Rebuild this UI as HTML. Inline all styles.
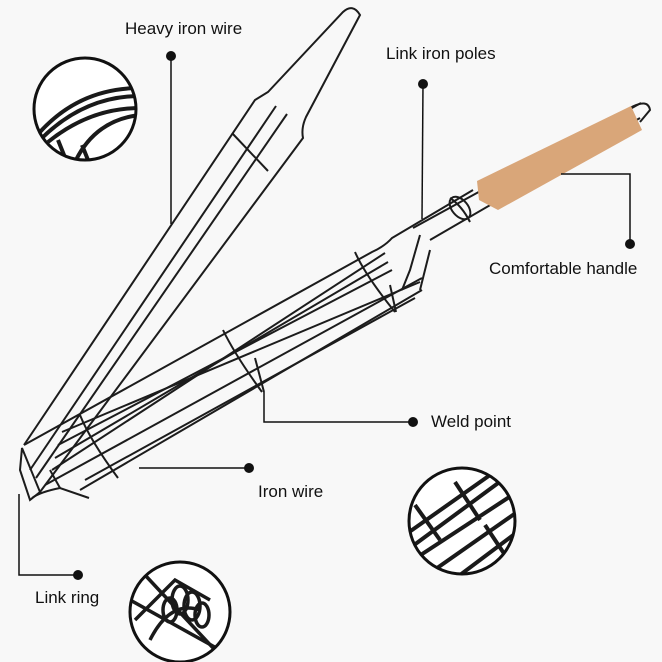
<!DOCTYPE html>
<html><head><meta charset="utf-8"><style>
html,body{margin:0;padding:0;background:#f8f8f8;}
svg{display:block}
text{font-family:"Liberation Sans",sans-serif;font-size:17px;fill:#111}
</style></head><body>
<svg width="662" height="662" viewBox="0 0 662 662" xmlns="http://www.w3.org/2000/svg">
<rect width="662" height="662" fill="#f8f8f8"/>
<defs>
<clipPath id="c1"><circle cx="85" cy="109" r="50"/></clipPath>
<clipPath id="c2"><circle cx="462" cy="521" r="52"/></clipPath>
<clipPath id="c3"><circle cx="180" cy="612" r="49"/></clipPath>
</defs>
<!-- lid -->
<g fill="none" stroke="#1c1c1c" stroke-width="2">
<path d="M24,445 L255,100 L268,92 L343,12 Q353,3 360,15 L306,117 Q301,128 303,138 L40,492"/>
<path d="M30,470 L276,106"/>
<path d="M36,478 L287,114"/>
<path d="M232,133 L268,171"/>
<path d="M20,470 L30,500 L40,492 L22,448 Z"/>
<path d="M10,420 L24,445" stroke="none"/>
<!-- basket -->
<path d="M24,445 L372,252 Q385,246 392,238 L473,190"/>
<path d="M32,498 Q40,492 60,488 L89,498"/>
<path d="M45,485 L422,278"/>
<path d="M52,470 L385,253"/>
<path d="M55,458 L388,262"/>
<path d="M58,445 L392,270"/>
<path d="M62,432 L420,282"/>
<path d="M80,490 L422,290"/>
<path d="M85,480 L415,298"/>
<path d="M50,470 L60,488"/>
<path d="M355,252 Q365,275 395,312"/>
<path d="M223,330 Q235,355 262,392"/>
<path d="M255,358 L264,392"/>
<path d="M390,285 L396,312"/>
<path d="M80,415 Q90,440 118,478"/>
<path d="M413,228 L641,103"/>
<path d="M420,235 L410,270 L402,290"/>
<path d="M430,240 L640,118"/>
<path d="M430,250 L420,290"/>
<path d="M450,198 Q462,206 470,222"/>
<ellipse cx="460" cy="208" rx="8" ry="13" transform="rotate(-40 460 208)"/>
<path d="M630,108 Q648,98 650,110 L640,122"/>
</g>
<polygon points="477,181 631,106 642,130 498,210 479,200" fill="#d9a679"/>
<!-- callouts -->
<g stroke="#111" stroke-width="1.5" fill="none">
<path d="M171,56 L171,224"/>
<path d="M423,84 L422,219"/>
<path d="M561,174 L630,174 L630,244"/>
<path d="M264,392 L264,422 L413,422"/>
<path d="M139,468 L249,468"/>
<path d="M19,494 L19,575 L78,575"/>
</g>
<g fill="#111">
<circle cx="171" cy="56" r="5"/><circle cx="423" cy="84" r="5"/><circle cx="630" cy="244" r="5"/>
<circle cx="413" cy="422" r="5"/><circle cx="249" cy="468" r="5"/><circle cx="78" cy="575" r="5"/>
</g>
<text x="125" y="34">Heavy iron wire</text>
<text x="386" y="59">Link iron poles</text>
<text x="489" y="274">Comfortable handle</text>
<text x="431" y="427">Weld point</text>
<text x="258" y="497">Iron wire</text>
<text x="35" y="603">Link ring</text>
<!-- insets -->
<g>
<circle cx="85" cy="109" r="51" fill="#fff"/>
<g clip-path="url(#c1)" stroke="#1a1a1a" fill="none" stroke-width="4">
<path d="M40,132 Q80,88 140,88"/><path d="M42,138 Q85,96 140,96"/><path d="M48,142 Q90,108 140,108"/><path d="M75,162 Q95,120 140,115"/><path d="M58,140 L68,165"/><path d="M82,145 L90,165"/>
</g>
<circle cx="85" cy="109" r="51" fill="none" stroke="#111" stroke-width="3"/>
</g>
<g>
<circle cx="462" cy="521" r="53" fill="#fff"/>
<g clip-path="url(#c2)" stroke="#1a1a1a" fill="none" stroke-width="4">
<path d="M405,535 L500,468"/><path d="M410,548 L505,478"/><path d="M410,562 L520,490"/><path d="M420,580 L520,510"/><path d="M440,590 L520,530"/>
<path d="M415,505 L440,540"/><path d="M455,482 L480,520"/><path d="M485,525 L505,555"/>
</g>
<circle cx="462" cy="521" r="53" fill="none" stroke="#111" stroke-width="3"/>
</g>
<g>
<circle cx="180" cy="612" r="50" fill="#fff"/>
<g clip-path="url(#c3)" stroke="#1a1a1a" fill="none" stroke-width="3.5">
<path d="M145,575 L215,650"/><path d="M135,620 L175,580 L210,600"/><path d="M150,640 Q170,600 200,610"/><path d="M130,600 L220,650"/>
<ellipse cx="180" cy="600" rx="8" ry="14"/><ellipse cx="192" cy="606" rx="8" ry="14"/><ellipse cx="170" cy="610" rx="7" ry="12"/><ellipse cx="202" cy="615" rx="7" ry="12"/><path d="M130,650 L165,660"/>
</g>
<circle cx="180" cy="612" r="50" fill="none" stroke="#111" stroke-width="3"/>
</g>
</svg>
</body></html>
